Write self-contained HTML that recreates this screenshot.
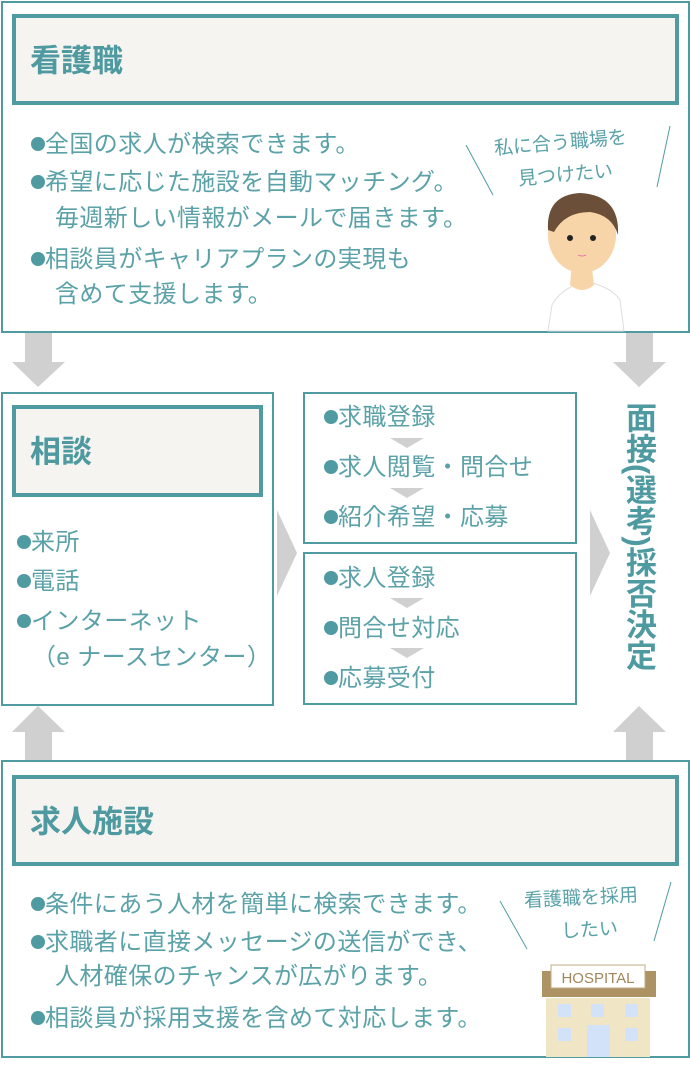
<!DOCTYPE html>
<html><head><meta charset="utf-8"><style>
*{margin:0;padding:0;box-sizing:border-box}
body{width:690px;height:1071px;background:#fff;position:relative;overflow:hidden;font-family:"Liberation Sans","Noto Sans CJK JP",sans-serif;color:#4e9aa0}
.a{position:absolute}
.box{position:absolute;border:2px solid #4f9ba1}
.hd{position:absolute;border:4px solid #4f9ba1;background:#f5f4f0}
.hd span{position:absolute;left:14px;font-size:31px;font-weight:bold;color:#4e9aa0;top:50%;transform:translateY(-55%)}
.t{position:absolute;font-size:24px;letter-spacing:0.4px;white-space:nowrap;line-height:1;color:#5aa2a8}
.b{display:inline-block;width:14px;height:14px;border-radius:50%;background:#4f9ba1;margin-right:0px;vertical-align:middle;position:relative;top:-2px}
.sh{position:absolute;background:#d0d0d0}
.tri{position:absolute;width:0;height:0}
.s{position:absolute;font-size:19px;white-space:nowrap;line-height:1;color:#5aa2a8}
</style></head><body>

<div class="box" style="left:1px;top:1px;width:689px;height:332px"></div>
<div class="hd" style="left:12px;top:14px;width:667px;height:91px"><span>看護職</span></div>
<div class="t" style="left:31px;top:133px"><span class="b"></span>全国の求人が検索できます。</div>
<div class="t" style="left:31px;top:171px"><span class="b"></span>希望に応じた施設を自動マッチング。</div>
<div class="t" style="left:55px;top:207px">毎週新しい情報がメールで届きます。</div>
<div class="t" style="left:31px;top:248px"><span class="b"></span>相談員がキャリアプランの実現も</div>
<div class="t" style="left:55px;top:283px">含めて支援します。</div>
<div class="s" style="left:494px;top:134px;transform:rotate(-5deg)">私に合う職場を</div>
<div class="s" style="left:518px;top:166px;transform:rotate(-5deg)">見つけたい</div>
<svg class="a" style="left:460px;top:120px" width="220" height="215">
<line x1="6" y1="25" x2="33" y2="75" stroke="#4f9ba1" stroke-width="1"/>
<line x1="210" y1="6" x2="197" y2="67" stroke="#4f9ba1" stroke-width="1"/>
<path d="M88 211 L92 185 Q100 170 120 163 L132 163 Q152 168 160 180 L164 211 Z" fill="#fff" stroke="#ddd"/>
<path d="M112 140 L110 165 Q122 175 134 165 L131 140 Z" fill="#f8d5a8"/>
<ellipse cx="122" cy="115" rx="34" ry="38" fill="#f8d5a8"/>
<path d="M88 110 Q86 75 120 73 Q160 75 158 115 Q152 95 130 92 Q105 92 94 112 Z" fill="#6b4f38"/>
<circle cx="110" cy="118" r="3" fill="#222"/><circle cx="133" cy="118" r="3" fill="#222"/>
<path d="M118 135 Q122 137 126 135" stroke="#e7a" fill="none"/>
</svg>

<div class="sh" style="left:25px;top:333px;width:27px;height:30px"></div>
<div class="tri" style="left:12px;top:362px;border-left:26px solid transparent;border-right:27px solid transparent;border-top:25px solid #d0d0d0"></div>
<div class="sh" style="left:626px;top:333px;width:27px;height:30px"></div>
<div class="tri" style="left:613px;top:362px;border-left:26px solid transparent;border-right:27px solid transparent;border-top:25px solid #d0d0d0"></div>

<div class="box" style="left:1px;top:392px;width:273px;height:314px"></div>
<div class="hd" style="left:12px;top:405px;width:251px;height:92px"><span>相談</span></div>
<div class="t" style="left:17px;top:531px"><span class="b"></span>来所</div>
<div class="t" style="left:17px;top:570px"><span class="b"></span>電話</div>
<div class="t" style="left:17px;top:610px"><span class="b"></span>インターネット</div>
<div class="t" style="left:32px;top:646px">（e ナースセンター）</div>

<div class="tri" style="left:277px;top:510px;border-top:43px solid transparent;border-bottom:43px solid transparent;border-left:20px solid #d0d0d0"></div>

<div class="box" style="left:303px;top:392px;width:274px;height:152px"></div>
<div class="t" style="left:324px;top:406px"><span class="b"></span>求職登録</div>
<div class="tri" style="left:390px;top:438px;border-left:17px solid transparent;border-right:17px solid transparent;border-top:10px solid #d0d0d0"></div>
<div class="t" style="left:324px;top:456px"><span class="b"></span>求人閲覧・問合せ</div>
<div class="tri" style="left:390px;top:488px;border-left:17px solid transparent;border-right:17px solid transparent;border-top:10px solid #d0d0d0"></div>
<div class="t" style="left:324px;top:506px"><span class="b"></span>紹介希望・応募</div>

<div class="box" style="left:303px;top:552px;width:274px;height:153px"></div>
<div class="t" style="left:324px;top:567px"><span class="b"></span>求人登録</div>
<div class="tri" style="left:390px;top:598px;border-left:17px solid transparent;border-right:17px solid transparent;border-top:10px solid #d0d0d0"></div>
<div class="t" style="left:324px;top:617px"><span class="b"></span>問合せ対応</div>
<div class="tri" style="left:390px;top:648px;border-left:17px solid transparent;border-right:17px solid transparent;border-top:10px solid #d0d0d0"></div>
<div class="t" style="left:324px;top:667px"><span class="b"></span>応募受付</div>

<div class="tri" style="left:590px;top:510px;border-top:43px solid transparent;border-bottom:43px solid transparent;border-left:20px solid #d0d0d0"></div>
<div class="a" style="left:618px;top:402px;width:36px;font-size:31px;font-weight:bold;line-height:32.5px;color:#4e9aa0;text-align:center;writing-mode:vertical-rl">面接(選考)採否決定</div>

<div class="tri" style="left:12px;top:706px;border-left:26px solid transparent;border-right:27px solid transparent;border-bottom:26px solid #d0d0d0"></div>
<div class="sh" style="left:25px;top:731px;width:27px;height:29px"></div>
<div class="tri" style="left:613px;top:706px;border-left:26px solid transparent;border-right:27px solid transparent;border-bottom:26px solid #d0d0d0"></div>
<div class="sh" style="left:626px;top:731px;width:27px;height:29px"></div>

<div class="box" style="left:1px;top:760px;width:689px;height:298px"></div>
<div class="hd" style="left:12px;top:775px;width:667px;height:91px"><span>求人施設</span></div>
<div class="t" style="left:31px;top:893px"><span class="b"></span>条件にあう人材を簡単に検索できます。</div>
<div class="t" style="left:31px;top:931px"><span class="b"></span>求職者に直接メッセージの送信ができ、</div>
<div class="t" style="left:55px;top:965px">人材確保のチャンスが広がります。</div>
<div class="t" style="left:31px;top:1007px"><span class="b"></span>相談員が採用支援を含めて対応します。</div>
<div class="s" style="left:524px;top:889px;transform:rotate(-3deg)">看護職を採用</div>
<div class="s" style="left:561px;top:921px;transform:rotate(-3deg)">したい</div>
<svg class="a" style="left:480px;top:860px" width="210" height="200">
<line x1="20" y1="41" x2="47" y2="89" stroke="#4f9ba1" stroke-width="1"/>
<line x1="191" y1="22" x2="174" y2="81" stroke="#4f9ba1" stroke-width="1"/>
<rect x="62" y="111" width="114" height="26" fill="#ad9263"/>
<rect x="66" y="138" width="104" height="59" fill="#f0e6c6"/>
<rect x="71" y="105" width="94" height="23" fill="#fff" stroke="#c2ab80"/>
<text x="118" y="123" text-anchor="middle" font-size="15" fill="#a0875a" font-family="Liberation Sans">HOSPITAL</text>
<g fill="#d2e2f8"><rect x="78" y="144" width="13" height="13"/><rect x="111" y="144" width="13" height="13"/><rect x="145" y="144" width="13" height="13"/><rect x="78" y="168" width="13" height="13"/><rect x="145" y="168" width="13" height="13"/><rect x="107" y="165" width="23" height="32"/></g>
</svg>
</body></html>
